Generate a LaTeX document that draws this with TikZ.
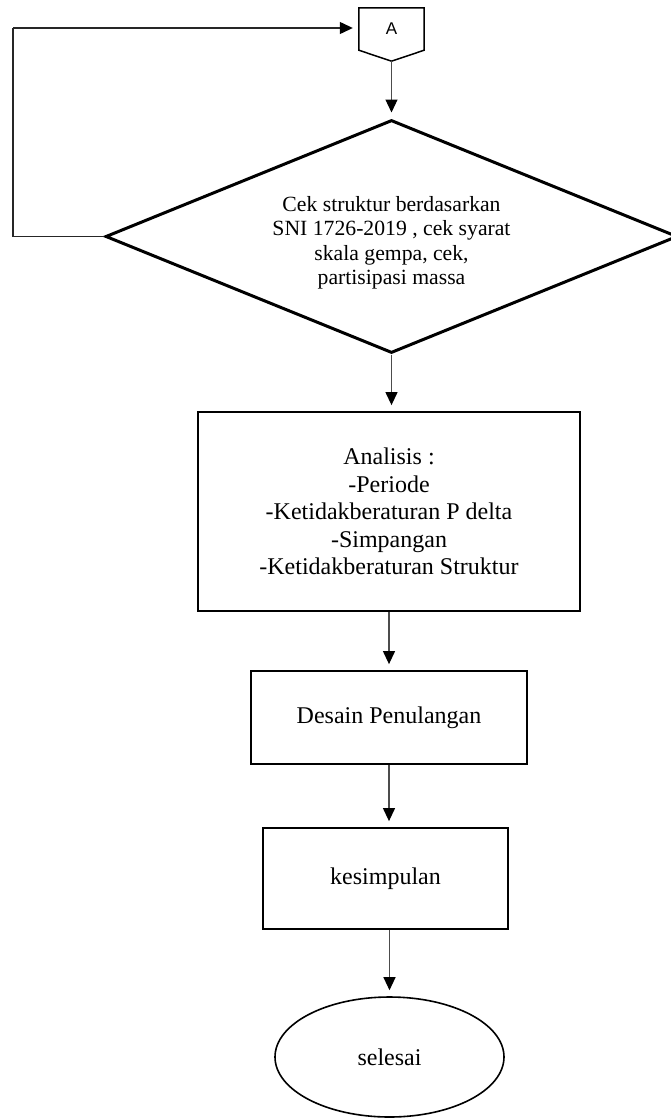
\documentclass[tikz,border=0pt]{standalone}
\usepackage{fontspec}
\setmainfont{Liberation Serif}
\newfontfamily\connectorFont{Liberation Sans}
\usetikzlibrary{arrows.meta,shapes.geometric,calc}

\begin{document}
\begin{tikzpicture}[%%
  x=1pt,y=-1pt,
  lineStyle/.style={-{Triangle[length=13pt,width=12pt,color=black]},draw=black!70,line width=1.2pt,shorten >=6pt},%%
  loopStyle/.style={line width=1.3pt,draw=black!85},%%
  boxStyle/.style={draw,line width=1.8pt,rectangle,inner sep=0pt,align=center,
    font=\fontsize{24}{27.5}\selectfont},%%
  decisionStyle/.style={draw,line width=3pt,diamond,aspect=2.45,inner sep=0pt,align=center,
    font=\fontsize{21.7}{24.5}\selectfont},%%
  endStyle/.style={draw,line width=1.6pt,ellipse,inner sep=0pt,
    font=\fontsize{24}{27.5}\selectfont}
]
%%
%% The page.
\useasboundingbox (0,0) rectangle (670,1119);
%%
\pgfmathsetmacro{\xtop}{391.5}   %% column of the connector and the check
\pgfmathsetmacro{\xcol}{389}     %% column of the boxes below
\pgfmathsetmacro{\xloop}{13}     %% the return line on the left
%%
%% The off-page connector.
\node[minimum width=65pt,minimum height=42pt,inner sep=0pt,
  font=\connectorFont\fontsize{17}{20}\selectfont] (conA) at (\xtop,29) {A};
\coordinate (conTip) at ($(conA.south)+(0,11)$);
\draw[line width=1.5pt,line join=miter] (conA.north west) -- (conA.north east)
  -- (conA.south east) -- (conTip) -- (conA.south west) -- cycle;
%%
%% The steps.
\node[decisionStyle,minimum width=572pt,minimum height=233pt] (cek) at (\xtop,236.5)
  {\rule{0pt}{28pt}Cek struktur berdasarkan\\SNI 1726-2019 , cek syarat\\skala gempa, cek,\\partisipasi massa};
\node[boxStyle,minimum width=382pt,minimum height=199pt] (analisis) at (\xcol,511.5)
  {Analisis :\\-Periode\\-Ketidakberaturan P delta\\-Simpangan\\-Ketidakberaturan Struktur};
\node[boxStyle,minimum width=276pt,minimum height=93pt] (desain) at (\xcol,717.5)
  {Desain Penulangan};
\node[boxStyle,minimum width=245pt,minimum height=101pt] (kesimpulan) at (385.5,878.5)
  {kesimpulan};
\node[endStyle,minimum width=229pt,minimum height=120pt] (selesai) at (389.5,1057)
  {selesai};
%%
%% The return line.
\coordinate (loopLow) at (\xloop,236.5);
\coordinate (loopHigh) at (\xloop,28);
\draw[loopStyle] (cek.west) -- (loopLow) -- (loopHigh);
\draw[lineStyle,line width=1.3pt,draw=black!85] (loopHigh) -- (loopHigh -| conA.west);
%%
%% The arrows down.
\draw[lineStyle] (conTip) -- (cek.north);
\draw[lineStyle] (cek.south) -- (cek.south |- analisis.north);
\draw[lineStyle] (analisis.south) -- (desain.north);
\draw[lineStyle] (desain.south) -- (desain.south |- kesimpulan.north);
\draw[lineStyle] (kesimpulan.south -| selesai.north) -- (selesai.north);
\end{tikzpicture}
\end{document}
